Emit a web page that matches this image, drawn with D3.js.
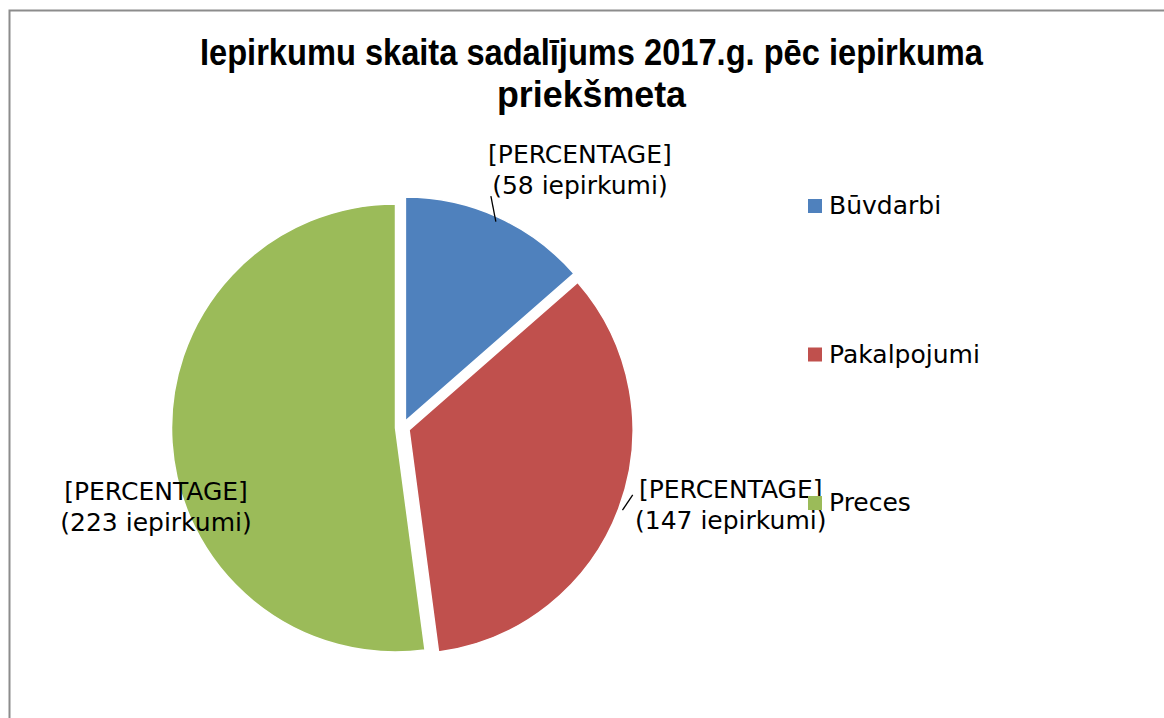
<!DOCTYPE html>
<html>
<head>
<meta charset="utf-8">
<script src="https://cdn.jsdelivr.net/npm/d3@7"></script>
<style>
  body { margin: 0; background: #fff; }
</style>
</head>
<body>
<script>
// data
var categories = ["Būvdarbi", "Pakalpojumi", "Preces"];
var counts = [58, 147, 223];
var colors = ["#4F81BD", "#C0504D", "#9BBB59"];
var titleLines = ["Iepirkumu skaita sadalījums 2017.g. pēc iepirkuma", "priekšmeta"];
var labelTop = "[PERCENTAGE]";
var labelUnit = "iepirkumi";

var width = 1164, height = 718;
var cx = 402.5, cy = 427.5, radius = 224, explode = 7;
var labelFont = "'DejaVu Sans', sans-serif";

var svg = d3.select("body").append("svg")
    .attr("width", width)
    .attr("height", height);

// chart frame (right and bottom edges fall outside the picture)
svg.append("rect")
    .attr("x", 9.5).attr("y", 10.5)
    .attr("width", width + 20).attr("height", height + 20)
    .style("fill", "none")
    .style("stroke", "#8c8c8c")
    .style("stroke-width", 2);

// title
svg.selectAll("text.title")
    .data(titleLines)
    .enter()
    .append("text")
    .attr("class", "title")
    .attr("x", 591.5)
    .attr("y", function(d, i) { return 65 + i * 42; })
    .attr("text-anchor", "middle")
    .attr("font-family", "'Liberation Sans Narrow', 'Liberation Sans', sans-serif")
    .attr("font-weight", "bold")
    .attr("font-size", "36px")
    .attr("textLength", function(d, i) { return i == 0 ? 783 : 189; })
    .attr("lengthAdjust", "spacingAndGlyphs")
    .text(function(d) { return d; });

var pie = d3.pie().sort(null).value(function(d) { return d; });
var arcs = pie(counts);
var arc = d3.arc().innerRadius(0).outerRadius(radius);

function mid(d) { return (d.startAngle + d.endAngle) / 2; }
function sliceCenter(d) {
  var a = mid(d);
  return [cx + explode * Math.sin(a), cy - explode * Math.cos(a)];
}
function outerPoint(d, r) {
  var c = sliceCenter(d), a = mid(d);
  return [c[0] + r * Math.sin(a), c[1] - r * Math.cos(a)];
}

svg.selectAll("path.slice")
    .data(arcs)
    .enter()
    .append("path")
    .attr("class", "slice")
    .attr("transform", function(d) { return "translate(" + sliceCenter(d) + ")"; })
    .attr("d", arc)
    .style("fill", function(d, i) { return colors[i]; })
    .style("stroke", "#fff")
    .style("stroke-width", 1.5);

// label placement relative to the outer point on each slice bisector
var labelShift = [[82, -54], [112, -11], [-16, 57]];
var leaderEnd = [[-7, -21], [14, -14], null];

arcs.forEach(function(d, i) {
  var p = outerPoint(d, radius);
  if (leaderEnd[i]) {
    var s = outerPoint(d, i == 0 ? radius - 5 : radius + 4);
    svg.append("line")
        .attr("x1", s[0]).attr("y1", s[1])
        .attr("x2", p[0] + leaderEnd[i][0]).attr("y2", p[1] + leaderEnd[i][1])
        .style("stroke", "#000")
        .style("stroke-width", 1.3);
  }
  var t = svg.append("text")
      .attr("x", p[0] + labelShift[i][0])
      .attr("y", p[1] + labelShift[i][1])
      .attr("text-anchor", "middle")
      .attr("font-family", labelFont)
      .attr("font-size", "25px")
      .attr("fill", "#000");
  t.append("tspan")
      .attr("x", p[0] + labelShift[i][0])
      .text(labelTop);
  t.append("tspan")
      .attr("x", p[0] + labelShift[i][0])
      .attr("dy", 31)
      .text("(" + counts[i] + " " + labelUnit + ")");
});

// legend
var legend = svg.selectAll("g.legend")
    .data(categories)
    .enter()
    .append("g")
    .attr("class", "legend")
    .attr("transform", function(d, i) { return "translate(808," + (199 + i * 148.5) + ")"; });

legend.append("rect")
    .attr("width", 14).attr("height", 14)
    .style("fill", function(d, i) { return colors[i]; });

legend.append("text")
    .attr("x", 21)
    .attr("y", 15)
    .attr("font-family", labelFont)
    .attr("font-size", "25px")
    .attr("fill", "#000")
    .text(function(d) { return d; });
</script>
</body>
</html>
